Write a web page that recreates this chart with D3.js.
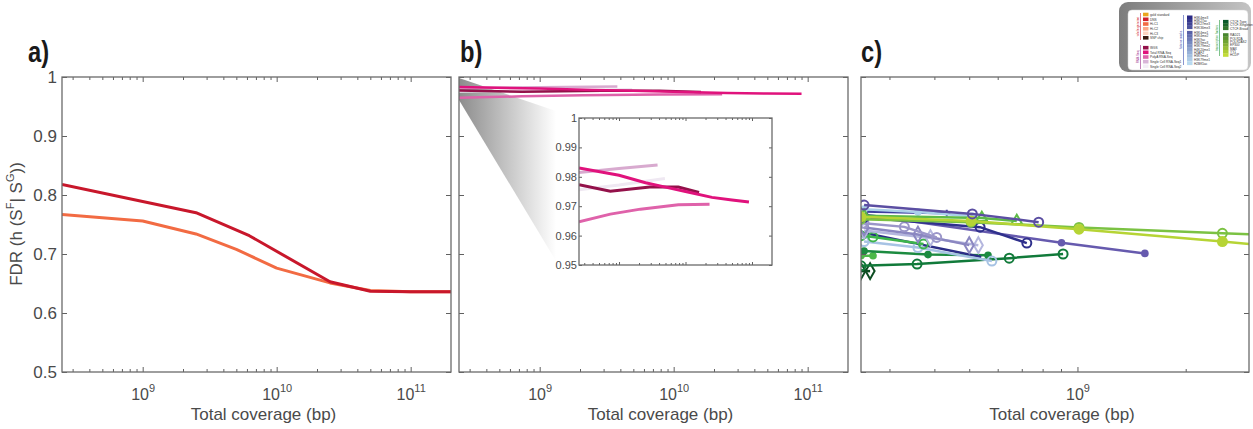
<!DOCTYPE html>
<html>
<head>
<meta charset="utf-8">
<script src="https://cdn.jsdelivr.net/npm/d3@7"></script>
<style>
body { margin: 0; background: #fff; }
svg { font-family: "Liberation Sans", Arial, Helvetica, sans-serif; }
.tick text { fill: #4a4a4a; }
.tick line { stroke: #606060; }
</style>
</head>
<body>
<svg id="chart" width="1253" height="429"></svg>
<script>
// panel a : two curves
const aRedX = [2.5e8, 1e9, 2.5e9, 6.25e9, 2.5e10, 5e10, 1e11, 2e11];
const aRedY = [0.818, 0.789, 0.770, 0.731, 0.653, 0.637, 0.636, 0.636];
const aOrangeX = [2.5e8, 1e9, 2.5e9, 5e9, 1e10, 2.5e10, 5e10, 1e11, 2e11];
const aOrangeY = [0.767, 0.756, 0.734, 0.708, 0.676, 0.651, 0.638, 0.636, 0.636];

// panel b : RNA-seq like curves (drawn bottom to top)
const bX = [
  [2.5e8, 1e9, 4.9e9],
  [2.5e8, 1e9, 3.8e9],
  [2.5e8, 7.4e8, 2.1e9, 7.8e9, 2.3e10],
  [2.5e8, 7.4e8, 2.9e9, 7.8e9, 1.6e10],
  [2.5e8, 1e9, 2.5e9, 5e9, 1e10, 2.5e10, 5e10, 9e10]
];
const bY = [
  [0.9756, 0.9772, 0.9794],
  [0.9815, 0.9828, 0.9840],
  [0.9647, 0.9673, 0.9690, 0.9705, 0.9707],
  [0.9773, 0.9751, 0.9765, 0.9765, 0.9747],
  [0.9830, 0.9805, 0.9780, 0.9765, 0.9750, 0.9730, 0.9721, 0.9714]
];

// panel c : histone marks and TFs
const cX = [
  [2.5e8, 2.7e8],
  [2.5e8, 2.65e8],
  [2.5e8, 3.58e8, 6.46e8, 9.12e8],
  [2.55e8, 3.84e8, 5.64e8],
  [2.5e8, 5.4e8],
  [2.55e8, 3.6e8, 5.78e8],
  [2.5e8, 2.7e8, 3.73e8],
  [2.55e8, 3.9e8, 5.3e8],
  [2.55e8, 3.6e8, 5.0e8],
  [2.55e8, 3.3e8, 4.06e8],
  [2.55e8, 9.03e8, 1.54e9],
  [2.55e8, 5.36e8, 7.23e8],
  [2.55e8, 4.33e8],
  [2.55e8, 3.6e8, 5.1e8],
  [2.55e8, 5.42e8, 6.78e8],
  [2.5e8, 5.06e8, 1.01e9, 2.53e9, 5e9],
  [2.5e8, 5.06e8, 1.01e9, 2.53e9, 5e9],
  [2.55e8, 5.1e8, 7.8e8]
];
const cY = [
  [0.697, 0.697],
  [0.671, 0.671],
  [0.680, 0.683, 0.693, 0.700],
  [0.705, 0.699, 0.698],
  [0.737, 0.695],
  [0.721, 0.711, 0.688],
  [0.731, 0.729, 0.717],
  [0.740, 0.727, 0.715],
  [0.745, 0.733, 0.715],
  [0.752, 0.746, 0.728],
  [0.767, 0.719, 0.701],
  [0.762, 0.7455, 0.7185],
  [0.772, 0.769],
  [0.776, 0.771, 0.764],
  [0.765, 0.761, 0.756],
  [0.759, 0.754, 0.745, 0.735, 0.729],
  [0.763, 0.756, 0.742, 0.721, 0.705],
  [0.783, 0.768, 0.754]
];

const yTicks = [0.5, 0.6, 0.7, 0.8, 0.9, 1];
const insetTicks = [0.95, 0.96, 0.97, 0.98, 0.99, 1];

// styles
const aColors = ['#f26b43', '#c8172b'];
const bColors = ['#efe8f2', '#d8aacf', '#df62aa', '#93114a', '#e0127c'];
const cColors = ['#4cb848', '#0d4d22', '#117a3a', '#1c8b40', '#2c2d85', '#a7c3e4', '#3db54b',
  '#b4b6de', '#8b87c1', '#9b96c9', '#665aae', '#2f308c', '#3d3e9f', '#abd0ea', '#5dba47',
  '#7bc243', '#b6d435', '#5b4ea2'];
const cMarkers = ['f', 'd', 'o', 'f', '', 'o', 'o', 'd', 'd', 'o', 'f', 'o', '+', 'f', '^', 'o', 'F', 'o'];

const svg = d3.select('#chart');
const plotTop = 77, plotBottom = 372;
const panels = [
  {left: 62, right: 451, dom: [2.5e8, 2e11], major: [1e9, 1e10, 1e11]},
  {left: 459, right: 848, dom: [2.5e8, 2e11], major: [1e9, 1e10, 1e11]},
  {left: 861, right: 1249, dom: [2.5e8, 3e9], major: [1e9]}
];

function minorTicks(dom) {
  const out = [];
  for (let e = 8; e <= 11; e++) {
    for (let k = 2; k <= 9; k++) {
      const v = k * Math.pow(10, e);
      if (v > dom[0] * 1.0001 && v < dom[1] * 0.9999) out.push(v);
    }
  }
  return out;
}

function drawFrame(g, x, y, w, h, major, opts) {
  const minor = minorTicks(x.domain());
  const big = opts.big, small = opts.small;
  g.append('g').attr('transform', `translate(0,${h})`)
    .call(d3.axisBottom(x).tickValues(minor).tickSize(-small).tickFormat(''));
  g.append('g')
    .call(d3.axisTop(x).tickValues(minor).tickSize(-small).tickFormat(''));
  const bx = g.append('g').attr('transform', `translate(0,${h})`)
    .call(d3.axisBottom(x).tickValues(major).tickSize(-big).tickFormat(''));
  g.append('g')
    .call(d3.axisTop(x).tickValues(major).tickSize(-big).tickFormat(''));
  const ly = g.append('g')
    .call(d3.axisLeft(y).tickValues(opts.yTicks).tickSize(-big).tickPadding(opts.pad)
      .tickFormat(opts.yLabels ? (d => d === 1 ? '1' : d3.format(opts.fmt)(d)) : ''));
  g.append('g').attr('transform', `translate(${w},0)`)
    .call(d3.axisRight(y).tickValues(opts.yTicks).tickSize(-big).tickFormat(''));
  g.selectAll('.domain').remove();
  g.selectAll('.tick line').attr('stroke', '#606060');
  ly.selectAll('text').attr('font-size', opts.yFont).attr('fill', '#4a4a4a');
  g.append('rect').attr('width', w).attr('height', h)
    .attr('fill', 'none').attr('stroke', '#6a6a6a').attr('stroke-width', 1.3);
  if (opts.xLabels) {
    bx.selectAll('.tick').append('text')
      .attr('y', 28).attr('text-anchor', 'middle').attr('fill', '#4a4a4a')
      .each(function (d) {
        const t = d3.select(this);
        t.append('tspan').attr('font-size', 16).text('10');
        t.append('tspan').attr('font-size', 11).attr('dy', -8).text(Math.round(Math.log10(d)));
      });
  }
}

const line = (x, y) => d3.line().x(d => x(d[0])).y(d => y(d[1]));

function drawMarker(g, type, color, px, py) {
  if (type === 'o') {
    g.append('circle').attr('cx', px).attr('cy', py).attr('r', 4.5)
      .attr('fill', 'none').attr('stroke', color).attr('stroke-width', 2);
  } else if (type === 'f') {
    g.append('circle').attr('cx', px).attr('cy', py).attr('r', 3.8).attr('fill', color);
  } else if (type === 'F') {
    g.append('circle').attr('cx', px).attr('cy', py).attr('r', 5.5).attr('fill', color);
  } else if (type === 'd') {
    g.append('path').attr('transform', `translate(${px},${py})`)
      .attr('d', d3.symbol(d3.symbolDiamond, 70)())
      .attr('fill', 'none').attr('stroke', color).attr('stroke-width', 2);
  } else if (type === '^') {
    g.append('path').attr('transform', `translate(${px},${py})`)
      .attr('d', d3.symbol(d3.symbolTriangle, 50)())
      .attr('fill', 'none').attr('stroke', color).attr('stroke-width', 2);
  } else if (type === '+') {
    g.append('path').attr('transform', `translate(${px},${py})`)
      .attr('d', 'M-3.5,0H3.5M0,-3.5V3.5').attr('stroke', color).attr('stroke-width', 2);
  }
}

const defs = svg.append('defs');
const xs = [], ys = [], gs = [];
panels.forEach((p, i) => {
  const w = p.right - p.left, h = plotBottom - plotTop;
  const x = d3.scaleLog().domain(p.dom).range([0, w]);
  const y = d3.scaleLinear().domain([0.5, 1]).range([h, 0]);
  const g = svg.append('g').attr('transform', `translate(${p.left},${plotTop})`);
  defs.append('clipPath').attr('id', 'clip' + i)
    .append('rect').attr('width', w).attr('height', h);
  xs.push(x); ys.push(y); gs.push(g);
  g.append('text').attr('x', w / 2 + 7).attr('y', 343).attr('text-anchor', 'middle')
    .attr('font-size', 17).attr('fill', '#4a4a4a').text('Total coverage (bp)');
});

// panel a
{
  const g = gs[0], x = xs[0], y = ys[0];
  const pg = g.append('g').attr('clip-path', 'url(#clip0)');
  [[aOrangeX, aOrangeY], [aRedX, aRedY]].forEach((s, k) => {
    pg.append('path').datum(d3.zip(s[0], s[1])).attr('d', line(x, y))
      .attr('fill', 'none').attr('stroke', aColors[k]).attr('stroke-width', 3)
      .attr('stroke-linejoin', 'round');
  });
}

// panel b
{
  const g = gs[1], x = xs[1], y = ys[1];
  const grad = defs.append('linearGradient').attr('id', 'wedge')
    .attr('gradientUnits', 'userSpaceOnUse').attr('x1', 0).attr('x2', 97).attr('y1', 0).attr('y2', 0);
  grad.append('stop').attr('offset', 0).attr('stop-color', '#8c8c8c');
  grad.append('stop').attr('offset', 1).attr('stop-color', '#ffffff');
  g.append('path').attr('d', 'M0,1L97,34L97,184L0,23Z').attr('fill', 'url(#wedge)');
  const pg = g.append('g').attr('clip-path', 'url(#clip1)');
  bX.forEach((xsr, k) => {
    pg.append('path').datum(d3.zip(xsr, bY[k])).attr('d', line(x, y))
      .attr('fill', 'none').attr('stroke', bColors[k]).attr('stroke-width', 2.5);
  });
  // inset
  const iw = 193, ih = 147;
  const ig = g.append('g').attr('transform', 'translate(120,41)');
  const ix = d3.scaleLog().domain([2.5e8, 2e11]).range([0, iw]);
  const iy = d3.scaleLinear().domain([0.95, 1]).range([ih, 0]);
  ig.append('rect').attr('width', iw).attr('height', ih).attr('fill', '#fff');
  defs.append('clipPath').attr('id', 'clipInset').append('rect').attr('width', iw).attr('height', ih);
  const ipg = ig.append('g').attr('clip-path', 'url(#clipInset)');
  bX.forEach((xsr, k) => {
    ipg.append('path').datum(d3.zip(xsr, bY[k])).attr('d', line(ix, iy))
      .attr('fill', 'none').attr('stroke', bColors[k]).attr('stroke-width', 3);
  });
  drawFrame(ig, ix, iy, iw, ih, [1e9, 1e10, 1e11],
    {big: 3, small: 2, yTicks: insetTicks, yLabels: true, fmt: '.2f', pad: 2, yFont: 11});
}

// panel c
{
  const g = gs[2], x = xs[2], y = ys[2];
  const pg = g.append('g').attr('clip-path', 'url(#clip2)');
  cX.forEach((xsr, k) => {
    const pts = d3.zip(xsr, cY[k]);
    pg.append('path').datum(pts).attr('d', line(x, y))
      .attr('fill', 'none').attr('stroke', cColors[k]).attr('stroke-width', 2.5);
    pts.forEach(d => drawMarker(pg, cMarkers[k], cColors[k], x(d[0]), y(d[1])));
  });
}

panels.forEach((p, i) => {
  drawFrame(gs[i], xs[i], ys[i], p.right - p.left, plotBottom - plotTop, p.major,
    {big: 5, small: 3, yTicks: yTicks, yLabels: i === 0, fmt: '.1f', pad: 5, yFont: 17, xLabels: true});
});

// y label
const yl = svg.append('text').attr('transform', 'translate(22,224) rotate(-90)')
  .attr('text-anchor', 'middle').attr('font-size', 17).attr('fill', '#4a4a4a');
yl.append('tspan').text('FDR (h (S');
yl.append('tspan').attr('font-size', 11).attr('dy', -8).text('F');
yl.append('tspan').attr('dy', 8).text('| S');
yl.append('tspan').attr('font-size', 11).attr('dy', -8).text('G');
yl.append('tspan').attr('dy', 8).text('))');

// panel letters (condensed bold)
[['a)', 28], ['b)', 460], ['c)', 861]].forEach(([t, x]) => {
  svg.append('text').attr('transform', `translate(${x},62) scale(0.82,1)`)
    .attr('font-weight', 'bold').attr('font-size', 29).attr('fill', '#1a1a1a').text(t);
});

// legend box (top right)
const legNames1 = ['gold standard', 'DNS', 'Hi-C1', 'Hi-C2', 'Hi-C3', 'SNP chip'];
const legNames2 = ['WGS', 'Total RNA-Seq', 'PolyA RNA-Seq', 'Single Cell RNA-Seq1', 'Single Cell RNA-Seq2'];
const legNames3 = ['H3K4me3', 'H3K27ac', 'H3K27me3', 'H3K36me3', 'H3K4me1', 'H3K4me2', 'H3K9ac',
  'H3K9me3', 'H3K79me2', 'H4K20me1', 'H2AFZ', 'H3K9me1', 'H3K79me1', 'H2BK5ac'];
const legNames4 = ['CTCF-Type', 'CTCF-Singleton', 'CTCF-Broad', 'RAD21', 'POLR2A', 'POLR2AS2',
  'EP300', 'MAX', 'YY1', 'HCDP'];
const leg1Colors = ['#eaa51c', '#d0202c', '#f26b43', '#fba98a', '#fdd3c0', '#3a1a10'];
const leg2Colors = ['#93114a', '#e0127c', '#df62aa', '#d8b4d8', '#f3eef6'];
const leg3Colors = d3.quantize(d3.interpolateRgb('#2b2a86', '#b9daf0'), legNames3.length);
const leg4Colors = d3.quantize(d3.interpolateRgb('#0b5a2a', '#c3db38'), legNames4.length);

const lg = svg.append('g');
const lgGrad = defs.append('linearGradient').attr('id', 'legGrad');
lgGrad.append('stop').attr('offset', 0).attr('stop-color', '#7d7d7d');
lgGrad.append('stop').attr('offset', 1).attr('stop-color', '#c4c4c4');
lg.append('rect').attr('x', 1119).attr('y', 2).attr('width', 132).attr('height', 70)
  .attr('rx', 9).attr('fill', 'url(#legGrad)');
lg.append('rect').attr('x', 1128).attr('y', 10).attr('width', 120).attr('height', 60)
  .attr('rx', 4).attr('fill', '#fff').attr('stroke', '#d0d0d0').attr('stroke-width', 0.5);

function legendGroup(names, colors, x0, ys0, title, tcolor, bx, by0, by1) {
  names.forEach((n, k) => {
    lg.append('rect').attr('x', x0).attr('y', ys0[k] - 1.8).attr('width', 5.5).attr('height', 3.6)
      .attr('fill', colors[k]);
    lg.append('text').attr('x', x0 + 7).attr('y', ys0[k] + 1.2).attr('font-size', 3.2)
      .attr('fill', '#333').text(n);
  });
  lg.append('line').attr('x1', bx).attr('x2', bx).attr('y1', by0).attr('y2', by1)
    .attr('stroke', tcolor).attr('stroke-width', 0.6);
  lg.append('text').attr('transform', `translate(${bx - 1.5},${(by0 + by1) / 2}) rotate(-90)`)
    .attr('text-anchor', 'middle').attr('font-size', 3).attr('fill', tcolor).text(title);
}
legendGroup(legNames1, leg1Colors, 1143, [14.5, 19.3, 24, 28.8, 33.3, 37.8], 'whole genome', '#d0202c', 1140.5, 13, 40);
legendGroup(legNames2, leg2Colors, 1143, [47.7, 52.3, 57, 61.7, 66.3], 'RNA-Seq', '#9b2a8a', 1140.5, 45, 69);
legendGroup(legNames3, leg3Colors, 1187,
  [17.3, 20.7, 24, 27.3, 32.7, 36, 39.3, 42.7, 46, 49.3, 52.7, 56, 59.7, 63.3], 'histone marks', '#3b4fb0', 1183.5, 15, 65);
legendGroup(legNames4, leg4Colors, 1223,
  [21.7, 25, 28.3, 35, 38.3, 41.7, 45, 48.3, 51.7, 55], 'transcription factors', '#2a9a3a', 1219.5, 20, 56);
</script>
</body>
</html>
